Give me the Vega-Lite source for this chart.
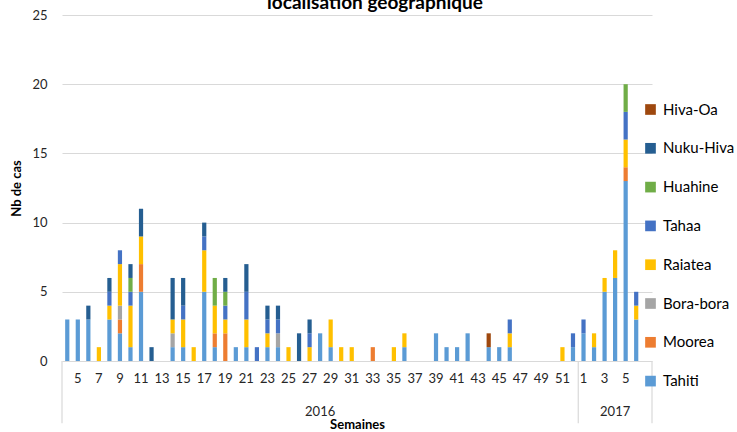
{
  "$schema": "https://vega.github.io/schema/vega-lite/v6.json",
  "width": 590,
  "height": 346,
  "autosize": {"type": "none"},
  "padding": {"left": 62, "top": 15, "right": 85, "bottom": 71},
  "background": "white",
  "config": {"font": "Lato", "view": {"stroke": null}},
  "title": {"text": "localisation géographique", "fontSize": 19, "fontWeight": "bold", "font": "Lato", "color": "#000000", "anchor": "middle", "offset": -4, "dx": 18},
  "datasets": {
    "cas": [
      {"sem": "2016-04", "zone": "Tahiti", "n": 3},
      {"sem": "2016-05", "zone": "Tahiti", "n": 3},
      {"sem": "2016-06", "zone": "Tahiti", "n": 3},
      {"sem": "2016-06", "zone": "Nuku-Hiva", "n": 1},
      {"sem": "2016-07", "zone": "Raiatea", "n": 1},
      {"sem": "2016-08", "zone": "Tahiti", "n": 3},
      {"sem": "2016-08", "zone": "Raiatea", "n": 1},
      {"sem": "2016-08", "zone": "Tahaa", "n": 1},
      {"sem": "2016-08", "zone": "Nuku-Hiva", "n": 1},
      {"sem": "2016-09", "zone": "Tahiti", "n": 2},
      {"sem": "2016-09", "zone": "Moorea", "n": 1},
      {"sem": "2016-09", "zone": "Bora-bora", "n": 1},
      {"sem": "2016-09", "zone": "Raiatea", "n": 3},
      {"sem": "2016-09", "zone": "Tahaa", "n": 1},
      {"sem": "2016-10", "zone": "Tahiti", "n": 1},
      {"sem": "2016-10", "zone": "Raiatea", "n": 3},
      {"sem": "2016-10", "zone": "Tahaa", "n": 1},
      {"sem": "2016-10", "zone": "Huahine", "n": 1},
      {"sem": "2016-10", "zone": "Nuku-Hiva", "n": 1},
      {"sem": "2016-11", "zone": "Tahiti", "n": 5},
      {"sem": "2016-11", "zone": "Moorea", "n": 2},
      {"sem": "2016-11", "zone": "Raiatea", "n": 2},
      {"sem": "2016-11", "zone": "Nuku-Hiva", "n": 2},
      {"sem": "2016-12", "zone": "Nuku-Hiva", "n": 1},
      {"sem": "2016-14", "zone": "Tahiti", "n": 1},
      {"sem": "2016-14", "zone": "Bora-bora", "n": 1},
      {"sem": "2016-14", "zone": "Raiatea", "n": 1},
      {"sem": "2016-14", "zone": "Nuku-Hiva", "n": 3},
      {"sem": "2016-15", "zone": "Tahiti", "n": 1},
      {"sem": "2016-15", "zone": "Raiatea", "n": 2},
      {"sem": "2016-15", "zone": "Tahaa", "n": 1},
      {"sem": "2016-15", "zone": "Nuku-Hiva", "n": 2},
      {"sem": "2016-16", "zone": "Raiatea", "n": 1},
      {"sem": "2016-17", "zone": "Tahiti", "n": 5},
      {"sem": "2016-17", "zone": "Raiatea", "n": 3},
      {"sem": "2016-17", "zone": "Tahaa", "n": 1},
      {"sem": "2016-17", "zone": "Nuku-Hiva", "n": 1},
      {"sem": "2016-18", "zone": "Tahiti", "n": 1},
      {"sem": "2016-18", "zone": "Moorea", "n": 1},
      {"sem": "2016-18", "zone": "Raiatea", "n": 2},
      {"sem": "2016-18", "zone": "Huahine", "n": 2},
      {"sem": "2016-19", "zone": "Moorea", "n": 2},
      {"sem": "2016-19", "zone": "Raiatea", "n": 1},
      {"sem": "2016-19", "zone": "Tahaa", "n": 1},
      {"sem": "2016-19", "zone": "Huahine", "n": 1},
      {"sem": "2016-19", "zone": "Nuku-Hiva", "n": 1},
      {"sem": "2016-20", "zone": "Tahiti", "n": 1},
      {"sem": "2016-21", "zone": "Tahiti", "n": 1},
      {"sem": "2016-21", "zone": "Raiatea", "n": 2},
      {"sem": "2016-21", "zone": "Tahaa", "n": 2},
      {"sem": "2016-21", "zone": "Nuku-Hiva", "n": 2},
      {"sem": "2016-22", "zone": "Tahaa", "n": 1},
      {"sem": "2016-23", "zone": "Tahiti", "n": 1},
      {"sem": "2016-23", "zone": "Raiatea", "n": 1},
      {"sem": "2016-23", "zone": "Tahaa", "n": 1},
      {"sem": "2016-23", "zone": "Nuku-Hiva", "n": 1},
      {"sem": "2016-24", "zone": "Tahiti", "n": 1},
      {"sem": "2016-24", "zone": "Bora-bora", "n": 1},
      {"sem": "2016-24", "zone": "Tahaa", "n": 1},
      {"sem": "2016-24", "zone": "Nuku-Hiva", "n": 1},
      {"sem": "2016-25", "zone": "Raiatea", "n": 1},
      {"sem": "2016-26", "zone": "Nuku-Hiva", "n": 2},
      {"sem": "2016-27", "zone": "Raiatea", "n": 1},
      {"sem": "2016-27", "zone": "Tahaa", "n": 1},
      {"sem": "2016-27", "zone": "Nuku-Hiva", "n": 1},
      {"sem": "2016-28", "zone": "Tahiti", "n": 2},
      {"sem": "2016-29", "zone": "Tahiti", "n": 1},
      {"sem": "2016-29", "zone": "Raiatea", "n": 2},
      {"sem": "2016-30", "zone": "Raiatea", "n": 1},
      {"sem": "2016-31", "zone": "Raiatea", "n": 1},
      {"sem": "2016-33", "zone": "Moorea", "n": 1},
      {"sem": "2016-35", "zone": "Raiatea", "n": 1},
      {"sem": "2016-36", "zone": "Tahiti", "n": 1},
      {"sem": "2016-36", "zone": "Raiatea", "n": 1},
      {"sem": "2016-39", "zone": "Tahiti", "n": 2},
      {"sem": "2016-40", "zone": "Tahiti", "n": 1},
      {"sem": "2016-41", "zone": "Tahiti", "n": 1},
      {"sem": "2016-42", "zone": "Tahiti", "n": 2},
      {"sem": "2016-44", "zone": "Tahiti", "n": 1},
      {"sem": "2016-44", "zone": "Hiva-Oa", "n": 1},
      {"sem": "2016-45", "zone": "Tahiti", "n": 1},
      {"sem": "2016-46", "zone": "Tahiti", "n": 1},
      {"sem": "2016-46", "zone": "Raiatea", "n": 1},
      {"sem": "2016-46", "zone": "Tahaa", "n": 1},
      {"sem": "2016-51", "zone": "Raiatea", "n": 1},
      {"sem": "2016-52", "zone": "Tahiti", "n": 1},
      {"sem": "2016-52", "zone": "Tahaa", "n": 1},
      {"sem": "2017-01", "zone": "Tahiti", "n": 2},
      {"sem": "2017-01", "zone": "Tahaa", "n": 1},
      {"sem": "2017-02", "zone": "Tahiti", "n": 1},
      {"sem": "2017-02", "zone": "Raiatea", "n": 1},
      {"sem": "2017-03", "zone": "Tahiti", "n": 5},
      {"sem": "2017-03", "zone": "Raiatea", "n": 1},
      {"sem": "2017-04", "zone": "Tahiti", "n": 6},
      {"sem": "2017-04", "zone": "Raiatea", "n": 2},
      {"sem": "2017-05", "zone": "Tahiti", "n": 13},
      {"sem": "2017-05", "zone": "Moorea", "n": 1},
      {"sem": "2017-05", "zone": "Raiatea", "n": 2},
      {"sem": "2017-05", "zone": "Tahaa", "n": 2},
      {"sem": "2017-05", "zone": "Huahine", "n": 2},
      {"sem": "2017-06", "zone": "Tahiti", "n": 3},
      {"sem": "2017-06", "zone": "Raiatea", "n": 1},
      {"sem": "2017-06", "zone": "Tahaa", "n": 1}
    ],
    "annees": [
      {"sem": "2016-28", "annee": "2016"},
      {"sem": "2017-04", "annee": "2017"}
    ],
    "debuts": [{"sem": "2016-04"}, {"sem": "2017-01"}],
    "fins": [{"sem": "2017-07"}]
  },
  "layer": [
    {
      "data": {"name": "cas"},
      "transform": [
        {"calculate": "indexof(['Hiva-Oa','Nuku-Hiva','Huahine','Tahaa','Raiatea','Bora-bora','Moorea','Tahiti'], datum.zone)", "as": "rang"}
      ],
      "mark": {"type": "bar", "width": {"band": 0.4}},
      "encoding": {
        "x": {
          "field": "sem", "type": "ordinal", "title": "Semaines",
          "scale": {
            "domain": ["2016-04","2016-05","2016-06","2016-07","2016-08","2016-09","2016-10","2016-11","2016-12","2016-13","2016-14","2016-15","2016-16","2016-17","2016-18","2016-19","2016-20","2016-21","2016-22","2016-23","2016-24","2016-25","2016-26","2016-27","2016-28","2016-29","2016-30","2016-31","2016-32","2016-33","2016-34","2016-35","2016-36","2016-37","2016-38","2016-39","2016-40","2016-41","2016-42","2016-43","2016-44","2016-45","2016-46","2016-47","2016-48","2016-49","2016-50","2016-51","2016-52","2017-01","2017-02","2017-03","2017-04","2017-05","2017-06","2017-07"],
            "paddingInner": 0, "paddingOuter": 0
          },
          "axis": {
            "labelExpr": "(parseInt(slice(datum.label, 5)) % 2 == 1 && datum.label != '2017-07') ? '' + parseInt(slice(datum.label, 5)) : ''",
            "labelAngle": 0, "ticks": false, "domain": false, "grid": false,
            "labelPadding": 11, "labelFontSize": 13, "labelColor": "#262626", "labelOverlap": false,
            "titleFontSize": 13, "titleFontWeight": "bold", "titleColor": "#000000", "titlePadding": 33
          }
        },
        "y": {
          "field": "n", "type": "quantitative", "stack": "zero", "title": "Nb de cas",
          "scale": {"domain": [0, 25], "nice": false},
          "axis": {
            "values": [0, 5, 10, 15, 20, 25], "grid": true, "gridColor": "#D9D9D9", "gridWidth": 1.2,
            "domain": false, "ticks": false, "labelPadding": 15, "labelFontSize": 13, "labelColor": "#262626",
            "titleFontSize": 13, "titleFontWeight": "bold", "titleColor": "#000000", "titlePadding": 8
          }
        },
        "color": {
          "field": "zone", "type": "nominal",
          "scale": {
            "domain": ["Hiva-Oa","Nuku-Hiva","Huahine","Tahaa","Raiatea","Bora-bora","Moorea","Tahiti"],
            "range": ["#9E480E","#255E91","#70AD47","#4472C4","#FFC000","#A5A5A5","#ED7D31","#5B9BD5"]
          },
          "legend": {
            "orient": "none", "legendX": 581, "legendY": 87, "title": null,
            "symbolType": "square", "symbolSize": 114, "symbolStrokeWidth": 0,
            "labelFontSize": 15, "labelColor": "#000000", "rowPadding": 22.8, "labelOffset": 5, "padding": 0
          }
        },
        "order": {"field": "rang", "type": "quantitative", "sort": "descending"}
      }
    },
    {
      "data": {"name": "debuts"},
      "mark": {"type": "rule", "color": "#D9D9D9", "strokeWidth": 1.2},
      "encoding": {
        "x": {"field": "sem", "type": "ordinal", "bandPosition": 0, "title": "Semaines"},
        "y": {"datum": 0},
        "y2": {"datum": -4.5}
      }
    },
    {
      "data": {"name": "fins"},
      "mark": {"type": "rule", "color": "#D9D9D9", "strokeWidth": 1.2},
      "encoding": {
        "x": {"field": "sem", "type": "ordinal", "bandPosition": 1, "title": "Semaines"},
        "y": {"datum": 0},
        "y2": {"datum": -4.5}
      }
    },
    {
      "data": {"name": "annees"},
      "mark": {"type": "text", "fontSize": 13, "color": "#262626", "baseline": "middle", "font": "Lato"},
      "encoding": {
        "x": {"field": "sem", "type": "ordinal", "title": "Semaines"},
        "y": {"datum": -3.7},
        "text": {"field": "annee"}
      }
    }
  ]
}
